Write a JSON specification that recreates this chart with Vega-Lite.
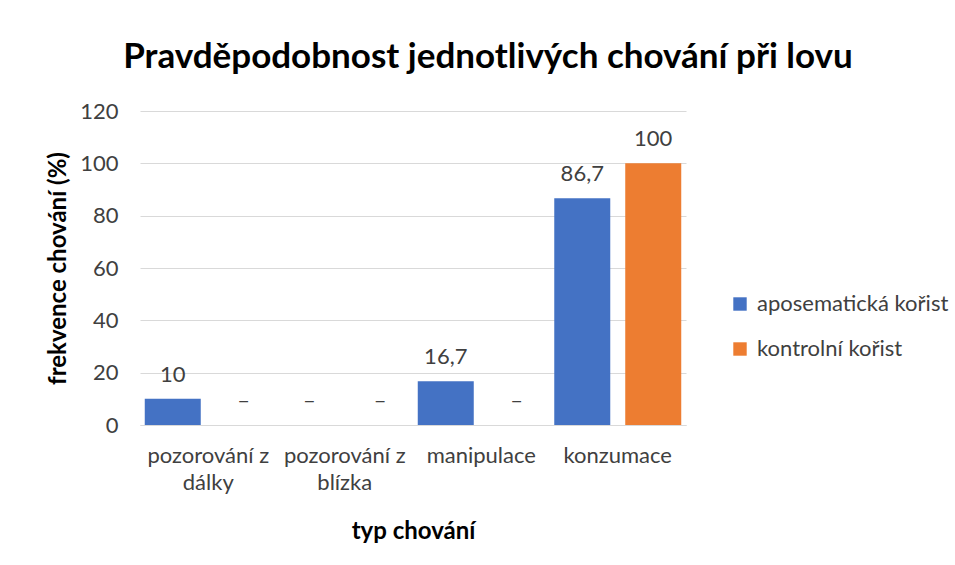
{
  "$schema": "https://vega.github.io/schema/vega-lite/v6.json",
  "width": 546,
  "height": 314,
  "autosize": "none",
  "padding": {"left": 140, "top": 111, "right": 269, "bottom": 140},
  "background": "white",
  "title": {
    "text": "Pravděpodobnost jednotlivých chování při lovu",
    "font": "Lato",
    "fontSize": 35,
    "fontWeight": "bold",
    "color": "#000000",
    "anchor": "middle",
    "dx": 75,
    "offset": 25
  },
  "data": {
    "values": [
      {"kategorie": "pozorování z dálky", "serie": "aposematická kořist", "hodnota": 10, "popisek": "10"},
      {"kategorie": "pozorování z dálky", "serie": "kontrolní kořist", "hodnota": 0, "popisek": "–"},
      {"kategorie": "pozorování z blízka", "serie": "aposematická kořist", "hodnota": 0, "popisek": "–"},
      {"kategorie": "pozorování z blízka", "serie": "kontrolní kořist", "hodnota": 0, "popisek": "–"},
      {"kategorie": "manipulace", "serie": "aposematická kořist", "hodnota": 16.7, "popisek": "16,7"},
      {"kategorie": "manipulace", "serie": "kontrolní kořist", "hodnota": 0, "popisek": "–"},
      {"kategorie": "konzumace", "serie": "aposematická kořist", "hodnota": 86.7, "popisek": "86,7"},
      {"kategorie": "konzumace", "serie": "kontrolní kořist", "hodnota": 100, "popisek": "100"}
    ]
  },
  "encoding": {
    "x": {
      "field": "kategorie",
      "type": "nominal",
      "sort": ["pozorování z dálky", "pozorování z blízka", "manipulace", "konzumace"],
      "scale": {"paddingInner": 0, "paddingOuter": 0},
      "axis": {
        "title": "typ chování",
        "labelAngle": 0,
        "ticks": false,
        "domainColor": "#d9d9d9",
        "labelPadding": 20,
        "titlePadding": 26,
        "labelExpr": "datum.label == 'pozorování z dálky' ? ['pozorování z', 'dálky'] : datum.label == 'pozorování z blízka' ? ['pozorování z', 'blízka'] : datum.label",
        "labelLineHeight": 27
      }
    },
    "xOffset": {
      "field": "serie",
      "type": "nominal",
      "scale": {"paddingInner": 0.211, "paddingOuter": 0.067}
    },
    "y": {
      "field": "hodnota",
      "type": "quantitative",
      "scale": {"domain": [0, 120]},
      "axis": {
        "title": "frekvence chování (%)",
        "values": [0, 20, 40, 60, 80, 100, 120],
        "domain": false,
        "ticks": false,
        "labelPadding": 22,
        "titlePadding": 9,
        "gridColor": "#d9d9d9"
      }
    }
  },
  "layer": [
    {
      "mark": {"type": "bar"},
      "encoding": {
        "color": {
          "field": "serie",
          "type": "nominal",
          "scale": {"domain": ["aposematická kořist", "kontrolní kořist"], "range": ["#4472C4", "#ED7D31"]},
          "legend": {
            "title": null,
            "orient": "none",
            "legendX": 589,
            "legendY": 182,
            "symbolType": "square",
            "symbolSize": 180,
            "symbolStrokeWidth": 0,
            "labelFontSize": 22,
            "labelFont": "Lato",
            "labelColor": "#404040",
            "labelLimit": 300,
            "rowPadding": 23,
            "labelOffset": 6
          }
        }
      }
    },
    {
      "mark": {"type": "text", "baseline": "middle", "dy": -24, "font": "Lato", "fontSize": 22, "color": "#404040"},
      "encoding": {
        "text": {"field": "popisek"}
      }
    }
  ],
  "config": {
    "view": {"stroke": null},
    "axis": {
      "labelFont": "Lato",
      "labelFontSize": 22,
      "labelColor": "#404040",
      "titleFont": "Lato",
      "titleFontSize": 24,
      "titleFontWeight": "bold",
      "titleColor": "#000000"
    }
  }
}
